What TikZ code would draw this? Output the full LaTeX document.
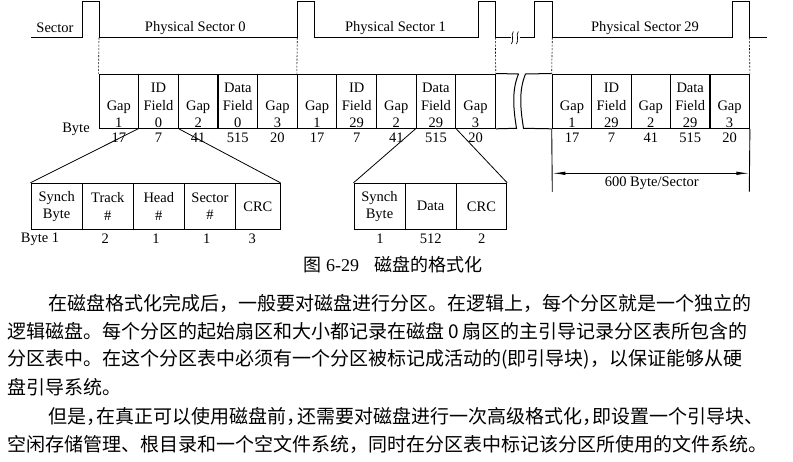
\documentclass[tikz,border=0pt]{standalone}
\usepackage{fontspec}
\setmainfont{Liberation Serif}
\newfontfamily\cjk{Noto Sans CJK SC}
\usetikzlibrary{arrows.meta}
% one justified line of the running text
\newcommand{\zhline}[2]{\makebox[#1][s]{\XeTeXlinebreaklocale "zh"\XeTeXlinebreakskip=0pt plus 6pt #2}}
% half-width punctuation
\newcommand{\hp}[1]{\makebox[0.55em][l]{#1}}

\begin{document}
\begin{tikzpicture}[
  x=1pt,y=-1pt,
  font=\fontsize{14.5}{17.5}\selectfont,
  cell/.style={rectangle,draw=black,line width=1pt,minimum width=39.6pt,minimum height=54.3pt,inner sep=0pt},
  fld/.style={rectangle,draw=black,line width=1pt,minimum height=46pt,inner sep=0pt,align=center},
  ctext/.style={anchor=south,align=center,inner sep=0pt,yshift=0.8pt},
  lab/.style={inner sep=0pt},
  wire/.style={line width=1pt},
  guide/.style={line width=0.6pt,dash pattern=on 2pt off 1.5pt},
  dim/.style={{Latex[length=13pt,width=3.5pt]}-{Latex[length=13pt,width=3.5pt]},line width=0.9pt},
  body/.style={anchor=west,inner sep=0pt,font=\cjk\fontsize{19}{22}\selectfont},
]
\useasboundingbox (0,0) rectangle (793,461);
% sector signal
\coordinate (sig0) at (31,37.7);
\coordinate (e0) at (99,37.7);
\coordinate (e1) at (297.3,37.7);
\coordinate (e2) at (495.3,37.7);
\coordinate (e3) at (552.3,37.7);
\coordinate (e4) at (749.3,37.7);
\draw[wire] (sig0) -- (82.7,37.7) |- (99,1.7) -- (e0) -- (e1) |- (314,1.7) -- (314,37.7) -- (478.3,37.7) |- (495.3,1.7) -- (e2) -- (511,37.7);
\draw[wire] (519.5,37.7) -- (534.3,37.7) |- (552.3,1.7) -- (e3) -- (732.7,37.7) |- (749.3,1.7) -- (e4) -- (766.7,37.7);
\draw[line width=0.7pt] (513.3,31.5) .. controls (510.5,35.5) and (514.5,39.5) .. (511.5,44);
\draw[line width=0.7pt] (518.3,31.5) .. controls (515.5,35.5) and (519.5,39.5) .. (516.5,44);
\node[lab] (lsec) at (55,28) {Sector};
\node[lab] (lps0) at (195.3,28) {Physical Sector 0};
\node[lab] (lps1) at (395.4,28) {Physical Sector 1};
\node[lab] (lps29) at (645,28) {Physical Sector 29};
\node[lab] (lbyte) at (76,129) {Byte};
% sector 0
\node[cell] (s0g1) at (118.83,101.15) {};
\node[ctext] (s0t1) at (s0g1.south) {Gap\\1};
\node[cell] (s0g2) at (158.49,101.15) {};
\node[ctext] (s0t2) at (s0g2.south) {ID\\Field\\0};
\node[cell] (s0g3) at (198.15,101.15) {};
\node[ctext] (s0t3) at (s0g3.south) {Gap\\2};
\node[cell] (s0g4) at (237.81,101.15) {};
\node[ctext] (s0t4) at (s0g4.south) {Data\\Field\\0};
\node[cell] (s0g5) at (277.47,101.15) {};
\node[ctext] (s0t5) at (s0g5.south) {Gap\\3};
\node[lab] (s0n1) at (118.83,137.5) {17};
\node[lab] (s0n2) at (158.49,137.5) {7};
\node[lab] (s0n3) at (198.15,137.5) {41};
\node[lab] (s0n4) at (237.81,137.5) {515};
\node[lab] (s0n5) at (277.47,137.5) {20};
% sector 1
\node[cell] (s1g1) at (317.1,101.15) {};
\node[ctext] (s1t1) at (s1g1.south) {Gap\\1};
\node[cell] (s1g2) at (356.7,101.15) {};
\node[ctext] (s1t2) at (s1g2.south) {ID\\Field\\29};
\node[cell] (s1g3) at (396.3,101.15) {};
\node[ctext] (s1t3) at (s1g3.south) {Gap\\2};
\node[cell] (s1g4) at (435.9,101.15) {};
\node[ctext] (s1t4) at (s1g4.south) {Data\\Field\\29};
\node[cell] (s1g5) at (475.5,101.15) {};
\node[ctext] (s1t5) at (s1g5.south) {Gap\\3};
\node[lab] (s1n1) at (317.1,137.5) {17};
\node[lab] (s1n2) at (356.7,137.5) {7};
\node[lab] (s1n3) at (396.3,137.5) {41};
\node[lab] (s1n4) at (435.9,137.5) {515};
\node[lab] (s1n5) at (475.5,137.5) {20};
% sector 29
\node[cell] (s29g1) at (572.0,101.15) {};
\node[ctext] (s29t1) at (s29g1.south) {Gap\\1};
\node[cell] (s29g2) at (611.4,101.15) {};
\node[ctext] (s29t2) at (s29g2.south) {ID\\Field\\29};
\node[cell] (s29g3) at (650.8,101.15) {};
\node[ctext] (s29t3) at (s29g3.south) {Gap\\2};
\node[cell] (s29g4) at (690.2,101.15) {};
\node[ctext] (s29t4) at (s29g4.south) {Data\\Field\\29};
\node[cell] (s29g5) at (729.6,101.15) {};
\node[ctext] (s29t5) at (s29g5.south) {Gap\\3};
\node[lab] (s29n1) at (572.0,137.5) {17};
\node[lab] (s29n2) at (611.4,137.5) {7};
\node[lab] (s29n3) at (650.8,137.5) {41};
\node[lab] (s29n4) at (690.2,137.5) {515};
\node[lab] (s29n5) at (729.6,137.5) {20};
% the break between sector 1 and sector 29
\coordinate (bk1) at (518.5,74);
\coordinate (bk2) at (516.5,128.3);
\coordinate (bk3) at (525.5,74);
\coordinate (bk4) at (523.5,128.3);
\draw[wire] (s1g5.north east) -- (bk1) .. controls (511,92) and (514,112) .. (bk2) -- (s1g5.south east);
\draw[wire] (s29g1.north west) -- (bk3) .. controls (518,92) and (521,112) .. (bk4) -- (s29g1.south west);
% guides from the signal
\draw[guide] (e0) -- (s0g1.north west);
\draw[guide] (e1) -- (s1g1.north west);
\draw[guide] (e2) -- (s1g5.north east);
\draw[guide] (e3) -- (s29g1.north west);
\draw[guide] (e4) -- (s29g5.north east);
% 600 Byte/Sector
\coordinate (dimL) at (552.3,191.7);
\coordinate (dimR) at (749.3,191.7);
\coordinate (arL) at (552.3,173.3);
\coordinate (arR) at (749.3,173.3);
\draw[wire,line width=0.9pt] (s29g1.south west) -- (dimL);
\draw[wire,line width=0.9pt] (s29g5.south east) -- (dimR);
\draw[dim] (arL) -- (arR);
\node[lab] (dimtxt) at (651.7,183) {600 Byte/Sector};
% ID field
\node[fld,minimum width=51.3pt] (isync) at (56.65,206.3) {Synch\\Byte};
\node[fld,minimum width=51pt] (itrk) at (107.8,206.3) {Track\\\#};
\node[fld,minimum width=51pt] (ihead) at (158.8,206.3) {Head\\\#};
\node[fld,minimum width=51.4pt] (isec) at (210,206.3) {Sector\\\#};
\node[fld,minimum width=44.3pt] (icrc) at (257.85,206.3) {CRC};
\node[lab] (ib1) at (40,239) {Byte 1};
\node[lab] (ib2) at (105.3,239) {2};
\node[lab] (ib3) at (156,239) {1};
\node[lab] (ib4) at (206.7,239) {1};
\node[lab] (ib5) at (252.3,239) {3};
\draw[wire,line width=0.8pt] (s0g2.south west) -- (isync.north west);
\draw[wire,line width=0.8pt] (s0g2.south east) -- (icrc.north east);
% data field
\node[fld,minimum width=51pt] (dsync) at (379.5,206.3) {Synch\\Byte};
\node[fld,minimum width=51.3pt] (ddata) at (430.65,206.3) {Data};
\node[fld,minimum width=50.4pt] (dcrc) at (481.5,206.3) {CRC};
\node[lab] (db1) at (380,239) {1};
\node[lab] (db2) at (430.7,239) {512};
\node[lab] (db3) at (481.7,239) {2};
\draw[wire,line width=0.8pt] (s1g4.south west) -- (dsync.north west);
\draw[wire,line width=0.8pt] (s1g4.south east) -- (dcrc.north east);
% caption and text
\node[lab,anchor=west,font=\fontsize{18}{21}\selectfont] (cap) at (303,265) {{\cjk 图}\hspace{5pt}6-29\hspace{15pt}{\cjk 磁盘的格式化}};
\node[body] (txt1) at (48,303) {\zhline{724pt}{在磁盘格式化完成后，一般要对磁盘进行分区。在逻辑上，每个分区就是一个独立的}};
\node[body] (txt2) at (7,331) {\zhline{765pt}{逻辑磁盘。每个分区的起始扇区和大小都记录在磁盘\hspace{4pt}0\hspace{4pt}扇区的主引导记录分区表所包含的}};
\node[body] (txt3) at (7,359) {\zhline{765pt}{分区表中。在这个分区表中必须有一个分区被标记成活动的(即引导块)，以保证能够从硬}};
\node[body] (txt4) at (7,387) {盘引导系统。};
\node[body] (txt5) at (48,416) {\zhline{725pt}{但是\hp{，}在真正可以使用磁盘前\hp{，}还需要对磁盘进行一次高级格式化\hp{，}即设置一个引导块、}};
\node[body] (txt6) at (7,444) {\zhline{766pt}{空闲存储管理、根目录和一个空文件系统，同时在分区表中标记该分区所使用的文件系统。}};
\end{tikzpicture}
\end{document}
